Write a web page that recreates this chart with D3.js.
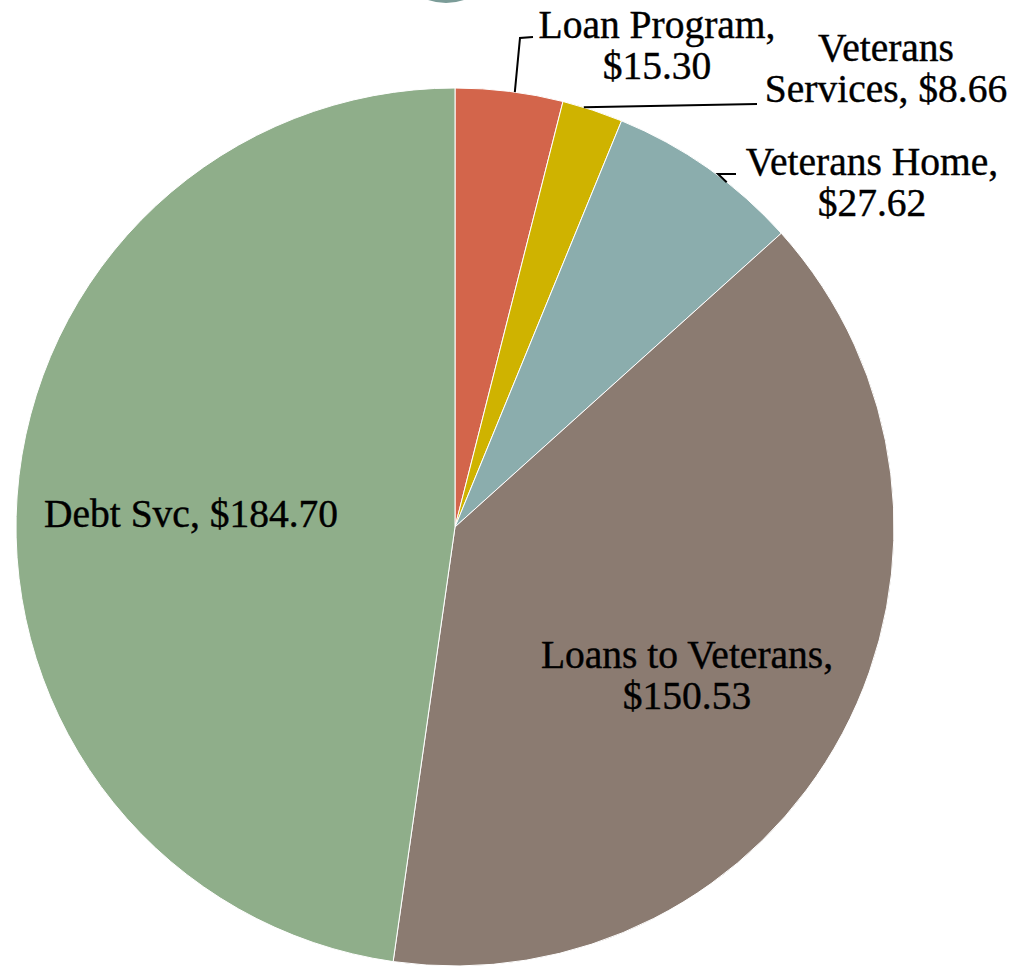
<!DOCTYPE html>
<html>
<head>
<meta charset="utf-8">
<script src="https://cdn.jsdelivr.net/npm/d3@7"></script>
<style>
  html, body { margin: 0; padding: 0; background: #fff; }
  svg { display: block; }
  text { font-family: "Liberation Serif", "Times New Roman", serif; fill: #000; }
</style>
</head>
<body>
<svg id="chart" width="1017" height="966"></svg>
<script>
// Data
const categories = ["Loan Program", "Veterans Services", "Veterans Home", "Loans to Veterans", "Debt Svc"];
const values = [15.30, 8.66, 27.62, 150.53, 184.70];
const colors = ["#d3654b", "#cfb300", "#8badad", "#8b7b71", "#8fae8a"];
const labelLines = [
  ["Loan Program,", "$15.30"],
  ["Veterans", "Services, $8.66"],
  ["Veterans Home,", "$27.62"],
  ["Loans to Veterans,", "$150.53"],
  ["Debt Svc, $184.70"]
];

// Layout
const W = 1017, H = 966;
const cx = 455, cy = 527, R = 439;
const fontSize = 39.5, lineH = 41;
// label anchor (center x, first baseline y) in page coords
const labelPos = [
  [657, 38], [886, 61], [872, 175], [687, 668], [191, 527]
];
// leader line: fraction along slice arc, then elbow points in page coords
const leaders = [
  {t: 0.55, pts: [[520, 38], [533, 37]]},
  {t: 0.35, pts: [[757, 104]]},
  {t: 0.62, pts: [[718, 174], [736, 174]]},
  null, null
];

const svg = d3.select("#chart");

// decorative partial circle at the top
svg.append("circle")
  .attr("cx", 446).attr("cy", -52).attr("r", 55)
  .attr("fill", "#7b9c98");

const g = svg.append("g").attr("transform", `translate(${cx},${cy})`);

const pie = d3.pie().sort(null).value(d => d).startAngle(0).endAngle(2 * Math.PI);
const arcs = pie(values);
const arc = d3.arc().innerRadius(0).outerRadius(R);

g.selectAll("path.slice")
  .data(arcs)
  .join("path")
  .attr("class", "slice")
  .attr("d", arc)
  .attr("fill", (d, i) => colors[i])
  .attr("stroke", "#fff")
  .attr("stroke-width", 1);

// leader lines
arcs.forEach((a, i) => {
  const L = leaders[i];
  if (!L) return;
  const ang = a.startAngle + (a.endAngle - a.startAngle) * L.t;
  const p0 = [cx + R * Math.sin(ang), cy - R * Math.cos(ang)];
  const pts = [p0].concat(L.pts);
  svg.append("path")
    .attr("d", d3.line()(pts))
    .attr("fill", "none")
    .attr("stroke", "#000")
    .attr("stroke-width", 2);
});

// labels
labelLines.forEach((lines, i) => {
  const t = svg.append("text")
    .attr("text-anchor", "middle")
    .attr("font-size", fontSize)
    .attr("stroke", "#000")
    .attr("stroke-width", 0.4);
  lines.forEach((ln, j) => {
    t.append("tspan")
      .attr("x", labelPos[i][0])
      .attr("y", labelPos[i][1] + j * lineH)
      .text(ln);
  });
});
</script>
</body>
</html>
